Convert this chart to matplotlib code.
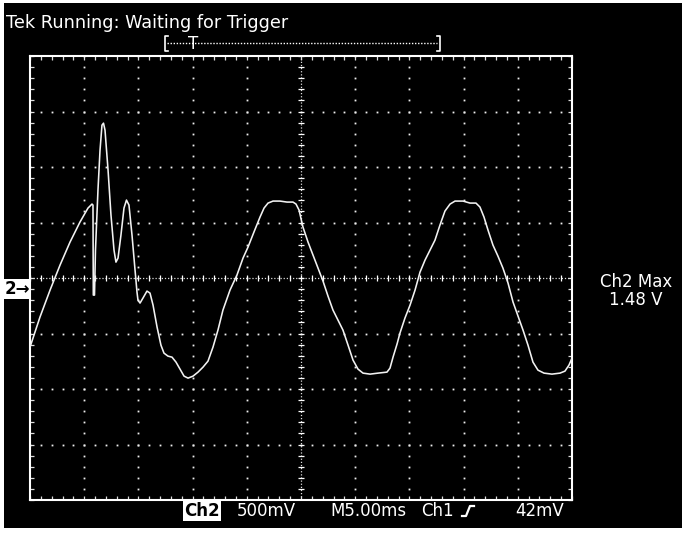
import matplotlib
matplotlib.use('Agg')
import matplotlib.pyplot as plt
import numpy as np
from matplotlib.patches import Rectangle
from matplotlib.lines import Line2D

# ---- data: Ch2 trace (time in ms, voltage in V) ----
time_ms = [0.00, 0.92, 1.85, 2.77, 3.69, 4.61, 5.35, 5.72, 5.81, 5.84, 5.95, 6.04,
           6.27, 6.46, 6.64, 6.78, 6.92, 7.20, 7.47, 7.75, 7.93, 8.12, 8.39, 8.67,
           8.90, 9.13, 9.41, 9.69, 9.87, 9.96, 10.15, 10.42, 10.79, 11.07, 11.35,
           11.72, 12.08, 12.36, 12.73, 13.10, 13.47, 13.84, 14.21, 14.58, 15.04,
           15.50, 15.96, 16.42, 16.88, 17.34, 17.80, 18.45, 19.09, 19.65, 20.11,
           20.66, 21.22, 21.59, 21.96, 22.42, 23.06, 23.71, 24.26, 24.54, 24.82,
           25.18, 25.65, 26.11, 26.57, 27.03, 27.49, 27.95, 28.41, 28.87, 29.34,
           29.80, 30.26, 30.72, 31.37, 32.10, 32.93, 33.21, 33.49, 33.86, 34.13,
           34.59, 35.06, 35.52, 35.98, 36.44, 36.90, 37.36, 37.82, 38.28, 38.75,
           39.21, 39.95, 40.59, 41.14, 41.51, 41.88, 42.25, 42.71, 43.17, 43.63,
           44.10, 44.56, 45.02, 45.48, 45.94, 46.40, 46.86, 47.42, 48.15, 48.89,
           49.35, 49.72, 50.00]
ch2_v = [-0.523, -0.252, -0.009, 0.216, 0.423, 0.604, 0.730, 0.766, 0.757, -0.054,
         -0.054, 0.351, 0.892, 1.252, 1.477, 1.495, 1.432, 1.072, 0.667, 0.351,
         0.243, 0.279, 0.486, 0.730, 0.802, 0.757, 0.486, 0.171, -0.027, -0.099,
         -0.126, -0.081, -0.018, -0.036, -0.144, -0.342, -0.505, -0.577, -0.604,
         -0.613, -0.658, -0.721, -0.784, -0.802, -0.784, -0.748, -0.703, -0.649,
         -0.523, -0.369, -0.189, -0.009, 0.126, 0.279, 0.378, 0.514, 0.649, 0.730,
         0.775, 0.793, 0.793, 0.784, 0.784, 0.766, 0.712, 0.559, 0.423, 0.306,
         0.189, 0.072, -0.063, -0.189, -0.279, -0.369, -0.505, -0.640, -0.721,
         -0.757, -0.766, -0.757, -0.748, -0.712, -0.613, -0.495, -0.396, -0.261,
         -0.144, -0.009, 0.153, 0.261, 0.351, 0.441, 0.577, 0.703, 0.766, 0.793,
         0.793, 0.775, 0.775, 0.739, 0.649, 0.532, 0.396, 0.297, 0.189, 0.054,
         -0.117, -0.243, -0.369, -0.505, -0.658, -0.730, -0.757, -0.766, -0.757,
         -0.739, -0.685, -0.622]

# scope settings
volts_per_div = 0.5
ms_per_div = 5.0
n_xdiv, n_ydiv = 10, 8
center_v = 0.1   # screen centre relative to Ch2 ground

header_text = "Tek Running: Waiting for Trigger"
ch_label = "Ch2"
scale_label = "500mV"
time_label = "M5.00ms"
trig_src = "Ch1"
trig_level = "42mV"
meas_label = "Ch2 Max"
meas_value = "1.48 V"

W, H = 689, 535
fig = plt.figure(figsize=(W / 100, H / 100), dpi=100, facecolor='white')

def fx(px):
    return px / W

def fy(py):
    return 1 - py / H

# black screen
fig.patches.append(Rectangle((fx(4), fy(528)), (682 - 4) / W, (528 - 3) / H,
                             transform=fig.transFigure, facecolor='black',
                             edgecolor='none', zorder=-10))

ax = fig.add_axes([fx(30), fy(500), 542 / W, 444 / H])
ax.set_zorder(1)
ax.set_facecolor('black')
xmin, xmax = 0, n_xdiv * ms_per_div
ymin = center_v - n_ydiv / 2 * volts_per_div
ymax = center_v + n_ydiv / 2 * volts_per_div
ax.set_xlim(xmin, xmax)
ax.set_ylim(ymin, ymax)
for s in ax.spines.values():
    s.set_color('white')
    s.set_linewidth(1.5)
ax.set_xticks([])
ax.set_yticks([])
ax.set_xticks(np.arange(xmin, xmax + 1e-6, ms_per_div / 5), minor=True)
ax.set_yticks(np.arange(ymin, ymax + 1e-6, volts_per_div / 5), minor=True)
ax.tick_params(which='minor', direction='in', length=3, width=0.9, color='#dddddd',
               top=True, right=True, labelbottom=False, labelleft=False)

# graticule dots
xs_minor = np.arange(xmin, xmax + 1e-6, ms_per_div / 5)
ys_minor = np.arange(ymin, ymax + 1e-6, volts_per_div / 5)
xc = (xmin + xmax) / 2
for k in range(1, n_xdiv):
    xv = xmin + k * ms_per_div
    if abs(xv - xc) < 1e-6:
        continue
    ax.plot(np.full_like(ys_minor, xv), ys_minor, ls='none', marker='s', ms=1.3,
            mew=0, color='#eeeeee', zorder=1)
for k in range(1, n_ydiv):
    yv = ymin + k * volts_per_div
    if abs(yv - center_v) < 1e-6:
        continue
    ax.plot(xs_minor, np.full_like(xs_minor, yv), ls='none', marker='s', ms=1.3,
            mew=0, color='#eeeeee', zorder=1)
# centre cross
ax.axvline(xc, ls=(0, (1, 1.5)), lw=0.9, color='#dddddd', zorder=1)
ax.axhline(center_v, ls=(0, (1, 1.5)), lw=0.9, color='#dddddd', zorder=1)
ax.plot(np.full_like(ys_minor, xc), ys_minor, ls='none', marker='_', ms=5,
        mew=0.9, color='white', zorder=1)
ax.plot(xs_minor, np.full_like(xs_minor, center_v), ls='none', marker='|', ms=5,
        mew=0.9, color='white', zorder=1)

# trace
ax.plot(time_ms, ch2_v, color='#f2f2f2', lw=1.15, zorder=3, solid_joinstyle='round')

# header
fig.text(fx(6), fy(28), header_text, color='white', fontsize=12.7,
         ha='left', va='baseline')

# trigger position bracket
fig.add_artist(Line2D([fx(168), fx(165), fx(165), fx(168)],
                      [fy(36), fy(36), fy(51), fy(51)], color='white', lw=1.2))
fig.add_artist(Line2D([fx(437), fx(440), fx(440), fx(437)],
                      [fy(36), fy(36), fy(51), fy(51)], color='white', lw=1.2))
fig.add_artist(Line2D([fx(167), fx(437)], [fy(43), fy(43)], color='white',
                      lw=1.0, ls=(0, (1, 1.2))))
fig.text(fx(193), fy(44), 'T', color='white', fontsize=12, ha='center',
         va='center')

# bottom readout
fig.text(fx(202), fy(511), ch_label, color='black', fontsize=12,
         fontweight='bold', ha='center', va='center',
         bbox=dict(facecolor='white', edgecolor='none', pad=1.0))
fig.text(fx(237), fy(511), scale_label, color='white', fontsize=12,
         ha='left', va='center')
fig.text(fx(330), fy(511), time_label, color='white', fontsize=12,
         ha='left', va='center')
fig.text(fx(421), fy(511), trig_src, color='white', fontsize=12,
         ha='left', va='center')
fig.add_artist(Line2D([fx(462), fx(466), fx(468), fx(470), fx(474)],
                      [fy(516), fy(516), fy(511), fy(506), fy(506)],
                      color='white', lw=1.6))
fig.text(fx(515), fy(511), trig_level, color='white', fontsize=12,
         ha='left', va='center')

# ground marker
fig.text(fx(17), fy(289), '2→', color='black', fontsize=12, fontweight='bold',
         ha='center', va='center',
         bbox=dict(facecolor='white', edgecolor='none', pad=0.8))

# measurement
fig.text(fx(636), fy(282), meas_label, color='white', fontsize=12,
         ha='center', va='center')
fig.text(fx(636), fy(300), meas_value, color='white', fontsize=12,
         ha='center', va='center')

fig.savefig('out.png', dpi=100, facecolor='white')
